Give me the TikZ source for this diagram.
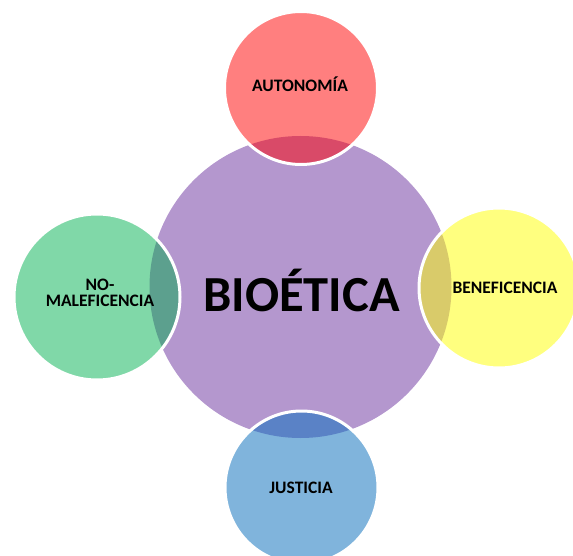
\documentclass[tikz,border=0pt]{standalone}
\usepackage{fontspec}
\setmainfont{Carlito}
\definecolor{cpurple}{RGB}{180,151,206}
\definecolor{cred}{RGB}{255,127,127}
\definecolor{credov}{RGB}{217,74,104}
\definecolor{cyellow}{RGB}{255,255,127}
\definecolor{cyellowov}{RGB}{217,203,106}
\definecolor{cgreen}{RGB}{128,216,168}
\definecolor{cgreenov}{RGB}{92,160,142}
\definecolor{cblue}{RGB}{128,180,220}
\definecolor{cblueov}{RGB}{90,130,198}
\tikzset{
  lbl/.style={font=\fontsize{17.5}{17}\selectfont\bfseries, text=black, anchor=base, inner sep=0pt, align=center},
  ring/.style={draw=white, line width=3pt}
}
\begin{document}
\begin{tikzpicture}[x=1pt,y=-1pt]
\useasboundingbox (0,0) rectangle (573,556);
\clip (0,0) rectangle (573,556);
\coordinate (C) at (300.5,287);
\fill[cpurple] (C) circle (151pt);
% satellites: center, radius, fill, overlap
\foreach \cx/\cy/\r/\fc/\oc in {301/88/76.5/cred/credov, 499/288/80/cyellow/cyellowov, 97/297/83/cgreen/cgreenov, 301.5/487.5/76.5/cblue/cblueov}{
  \fill[\fc] (\cx,\cy) circle (\r pt);
  \begin{scope}
    \clip (C) circle (151pt);
    \fill[\oc] (\cx,\cy) circle (\r pt);
  \end{scope}
  \draw[ring] (\cx,\cy) circle (\r pt);
}
\node[font=\fontsize{50.5}{51}\selectfont\bfseries, anchor=base, inner sep=0pt] (bio) at (301.5,311) {BIOÉTICA};
\node[lbl] (aut) at (300,92) {AUTONOMÍA};
\node[lbl] (ben) at (505,293) {BENEFICENCIA};
\node[lbl] (no1) at (100,290) {NO-};
\node[lbl] (no2) at (100,306) {MALEFICENCIA};
\node[lbl] (jus) at (301,493) {JUSTICIA};
\end{tikzpicture}
\end{document}
